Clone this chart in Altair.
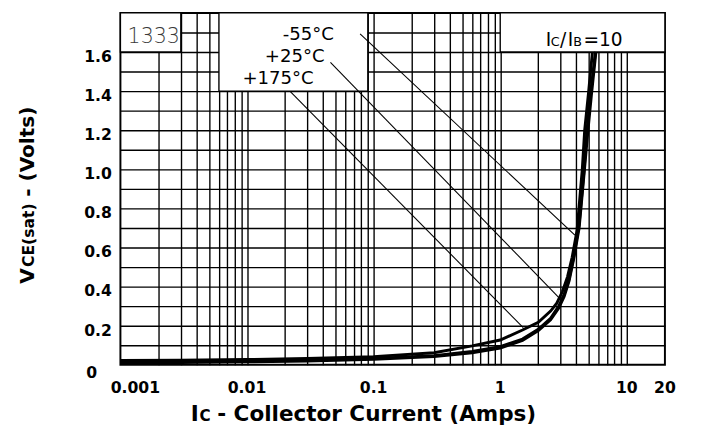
import altair as alt
import pandas as pd

# ---------------- data ----------------
grid_x = [0.002, 0.003, 0.004, 0.005, 0.006, 0.007, 0.008, 0.009,
          0.01, 0.02, 0.03, 0.04, 0.05, 0.06, 0.07, 0.08, 0.09,
          0.1, 0.2, 0.3, 0.4, 0.5, 0.6, 0.7, 0.8, 0.9,
          1, 2, 3, 4, 5, 6, 7, 8, 9, 10]
grid_y = [0.1, 0.2, 0.3, 0.4, 0.5, 0.6, 0.7, 0.8, 0.9, 1.0,
          1.1, 1.2, 1.3, 1.4, 1.5, 1.6, 1.7]

x_tick_values = [0.01, 0.1, 1, 10, 20]
x_tick_text = ["0.01", "0.1", "1", "10", "20"]
x_first_tick = [0.001]
x_first_text = ["0.001"]
y_tick_values = [0.2, 0.4, 0.6, 0.8, 1.0, 1.2, 1.4, 1.6]
y_tick_text = ["0.2", "0.4", "0.6", "0.8", "1.0", "1.2", "1.4", "1.6"]
y_zero_tick = [0]
y_zero_text = ["0"]

# curves (IC in Amps, VCE(sat) in Volts)
ic_175 = [0.001, 0.003, 0.01, 0.03, 0.1, 0.3, 0.6, 1.0, 1.5, 2.0, 2.5, 2.8,
          3.1, 3.4, 3.7, 4.05, 4.45, 4.65, 5.0, 5.35]
vce_175 = [0.022, 0.024, 0.027, 0.033, 0.042, 0.062, 0.097, 0.127, 0.178,
           0.218, 0.275, 0.315, 0.375, 0.45, 0.55, 0.69, 1.0, 1.2, 1.4, 1.6]
ic_25 = [0.001, 0.003, 0.01, 0.03, 0.1, 0.3, 0.6, 1.0, 1.5, 2.0, 2.5, 2.9,
         3.2, 3.5, 3.8, 4.2, 4.6, 4.85, 5.2, 5.65]
vce_25 = [0.016, 0.017, 0.02, 0.025, 0.033, 0.047, 0.068, 0.093, 0.132,
          0.182, 0.238, 0.3, 0.36, 0.44, 0.55, 0.72, 1.0, 1.2, 1.4, 1.6]
ic_m55 = [0.001, 0.003, 0.01, 0.03, 0.1, 0.3, 0.6, 1.0, 1.5, 2.0, 2.5, 2.9,
          3.2, 3.5, 3.8, 4.2, 4.6, 4.9, 5.25, 5.7]
vce_m55 = [0.010, 0.012, 0.015, 0.02, 0.028, 0.042, 0.062, 0.086, 0.125,
           0.175, 0.23, 0.29, 0.35, 0.43, 0.54, 0.7, 0.98, 1.18, 1.38, 1.6]

# temperature labels and their leader lines
temp_labels = ["-55°C", "+25°C", "+175°C"]
temp_label_x = [0.0305, 0.0238, 0.01758]
temp_label_y = [1.663, 1.549, 1.434]
lead_x_start = [0.0782, 0.0456, 0.0220]
lead_y_start = [1.693, 1.547, 1.398]
lead_x_end = [3.89, 2.92, 1.52]
lead_y_end = [0.663, 0.343, 0.19]

# blank (white) label boxes in the grid
box_x1 = [0.001, 0.006, 1]
box_x2 = [0.003, 0.09, 20]
box_y1 = [1.6, 1.4, 1.6]
box_y2 = [1.8, 1.8, 1.8]

code_label = ["1333"]
code_x = [0.00114]
code_y = [1.648]
ratio_x = [2.29]
ratio_y = [1.633]

# ---------------- build tables ----------------
curves = pd.concat([
    pd.DataFrame({"I": ic_m55, "V": vce_m55, "s": "-55"}),
    pd.DataFrame({"I": ic_25, "V": vce_25, "s": "+25"}),
    pd.DataFrame({"I": ic_175, "V": vce_175, "s": "+175"}),
], ignore_index=True)

leads = pd.DataFrame({
    "I": lead_x_start + lead_x_end,
    "V": lead_y_start + lead_y_end,
    "s": temp_labels + temp_labels,
})
temps = pd.DataFrame({"I": temp_label_x, "V": temp_label_y, "t": temp_labels})
boxes = pd.DataFrame({"x1": box_x1, "x2": box_x2, "y1": box_y1, "y2": box_y2})
xt = pd.DataFrame({"I": x_tick_values, "t": x_tick_text})
xt0 = pd.DataFrame({"I": x_first_tick, "t": x_first_text})
yt = pd.DataFrame({"V": y_tick_values, "t": y_tick_text})
yt0 = pd.DataFrame({"V": y_zero_tick, "t": y_zero_text})
code_df = pd.DataFrame({"I": code_x, "V": code_y, "t": code_label})
ratio_df = pd.DataFrame({"I": ratio_x, "V": ratio_y})

W, H = 557, 360
FONT = "DejaVu Sans"

x_scale = alt.Scale(type="log", domain=[0.001, 20])
y_scale = alt.Scale(domain=[0, 1.8])
x_axis = alt.Axis(values=grid_x, grid=True, gridColor="black", gridWidth=1.4,
                  gridOpacity=1, labels=False, ticks=False, domain=False, title=None)
y_axis = alt.Axis(values=grid_y, grid=True, gridColor="black", gridWidth=1.4,
                  gridOpacity=1, labels=False, ticks=False, domain=False, title=None)


def X(f):
    return alt.X(f, type="quantitative", scale=x_scale, axis=x_axis)


def Y(f):
    return alt.Y(f, type="quantitative", scale=y_scale, axis=y_axis)


box_layer = alt.Chart(boxes).mark_rect(fill="white", stroke="black", strokeWidth=1.4).encode(
    x=X("x1"), x2="x2", y=Y("y1"), y2="y2")

lead_layer = alt.Chart(leads).mark_line(color="black", strokeWidth=1.1).encode(
    x=X("I"), y=Y("V"), detail="s:N")

curve_layer = alt.Chart(curves).mark_line(color="black", strokeWidth=3).encode(
    x=X("I"), y=Y("V"), detail="s:N", order=alt.Order("I:Q"))

temp_layer = alt.Chart(temps).mark_text(font=FONT, fontSize=18.5, align="center",
                                       baseline="alphabetic", color="black").encode(
    x=X("I"), y=Y("V"), text="t:N")

code_layer = alt.Chart(code_df).mark_text(font=FONT, fontSize=21, fontWeight=300, align="left",
                                          baseline="alphabetic", color="#3a3a3a").encode(
    x=X("I"), y=Y("V"), text="t:N")

ratio_parts = [("I", 19, 0), ("C", 13, 5), ("/", 19, 14.5), ("I", 19, 22.5),
               ("B", 13, 28), ("=10", 19, 38.5)]
ratio_layers = [
    alt.Chart(ratio_df).mark_text(text=txt, font=FONT, fontSize=fs, dx=dx, align="left",
                                  baseline="alphabetic", color="black").encode(
        x=X("I"), y=Y("V"))
    for txt, fs, dx in ratio_parts
]

xlab = alt.Chart(xt).mark_text(font=FONT, fontSize=16, fontWeight="bold", align="center",
                               baseline="alphabetic", color="black").encode(
    x=X("I"), y=alt.value(H + 29), text="t:N")
xlab0 = alt.Chart(xt0).mark_text(font=FONT, fontSize=16, fontWeight="bold", align="left",
                                 baseline="alphabetic", dx=-10, color="black").encode(
    x=X("I"), y=alt.value(H + 29), text="t:N")
ylab = alt.Chart(yt).mark_text(font=FONT, fontSize=16, fontWeight="bold", align="left",
                               baseline="middle", dy=5, color="black").encode(
    x=alt.value(-37), y=Y("V"), text="t:N")
ylab0 = alt.Chart(yt0).mark_text(font=FONT, fontSize=16, fontWeight="bold", align="left",
                                 baseline="middle", dy=8, color="black").encode(
    x=alt.value(-35), y=Y("V"), text="t:N")

# axis titles (with smaller subscript-like letters)
xtitle = [
    ("I", 22, 72),
    ("C", 15.5, 81),
    ("- Collector Current (Amps)", 22, 99),
]
xtitle_layers = [
    alt.Chart(ratio_df).mark_text(text=txt, font=FONT, fontSize=fs, fontWeight="bold",
                                  align="left", baseline="alphabetic", color="black").encode(
        x=alt.value(px), y=alt.value(H + 57))
    for txt, fs, px in xtitle
]
ytitle = [
    ("V", 20.5, 277),
    ("CE(sat)", 16, 260),
    ("- (Volts)", 20.5, 188),
]
ytitle_layers = [
    alt.Chart(ratio_df).mark_text(text=txt, font=FONT, fontSize=fs, fontWeight="bold",
                                  angle=270, align="left", baseline="alphabetic",
                                  color="black").encode(
        x=alt.value(-88), y=alt.value(py))
    for txt, fs, py in ytitle
]

chart = alt.layer(
    box_layer, lead_layer, curve_layer, temp_layer, code_layer,
    *ratio_layers, xlab, xlab0, ylab, ylab0, *xtitle_layers, *ytitle_layers
).properties(
    width=W, height=H,
    autosize=alt.AutoSizeParams(type="none"),
    padding={"left": 115, "top": 0, "right": 41, "bottom": 78},
).configure_view(stroke="black", strokeWidth=2)

chart.save("out.html", embed_options={"renderer": "svg", "actions": False})
